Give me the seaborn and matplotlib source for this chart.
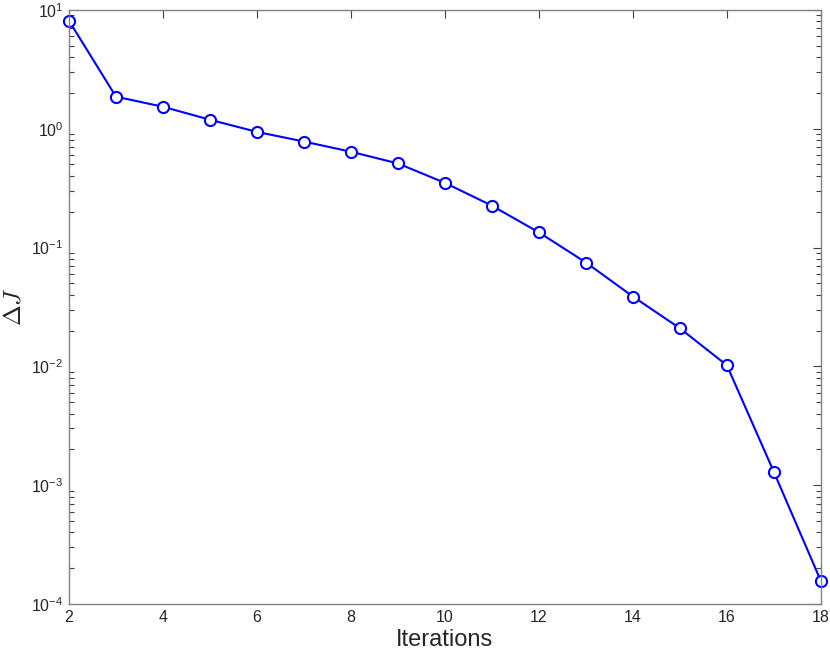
import numpy as np
import pandas as pd
import matplotlib
matplotlib.use("Agg")
import matplotlib.pyplot as plt
import seaborn as sns
from matplotlib.ticker import LogLocator, NullFormatter

iterations = [2, 3, 4, 5, 6, 7, 8, 9, 10, 11, 12, 13, 14, 15, 16, 17, 18]
delta_j = [8.1, 1.86, 1.53, 1.19, 0.94, 0.78, 0.64, 0.51, 0.35, 0.225, 0.134,
           0.0748, 0.0387, 0.0209, 0.0102, 0.00129, 0.000156]
x_ticks = [2, 4, 6, 8, 10, 12, 14, 16, 18]

sns.set_theme(style="white")
plt.rcParams['font.family'] = ['Liberation Sans', 'DejaVu Sans']
plt.rcParams['mathtext.fontset'] = 'cm'

df = pd.DataFrame({"Iterations": iterations, "dJ": delta_j})

fig = plt.figure(figsize=(8.3, 6.55), dpi=100)
ax = fig.add_axes([0.0831, 0.0779, 0.9059, 0.907])
sns.lineplot(data=df, x="Iterations", y="dJ", ax=ax, color="#0000ff",
             linewidth=1.5, marker="o", markersize=8, markerfacecolor="white",
             markeredgecolor="#0000ff", markeredgewidth=1.5)
for ln in ax.lines:
    ln.set_clip_on(False)
ax.set_yscale("log")
ax.set_xlim(2, 18)
ax.set_ylim(1e-4, 1e1)
ax.set_xticks(x_ticks)
ax.set_xticklabels([str(t) for t in x_ticks])
ax.yaxis.set_major_locator(LogLocator(base=10, numticks=10))
ax.yaxis.set_minor_locator(LogLocator(base=10, subs=np.arange(2, 10), numticks=10))
ax.yaxis.set_minor_formatter(NullFormatter())
for sp in ax.spines.values():
    sp.set_color("#808080")
    sp.set_linewidth(1.0)
    sp.set_visible(True)
ax.tick_params(axis="both", which="major", direction="in", length=6, width=0.8,
               color="#404040", labelsize=11.5, labelcolor="#262626",
               top=True, right=True, pad=4)
ax.tick_params(axis="y", which="minor", direction="in", length=3.5, width=0.8,
               color="#404040", left=True, right=True)
ax.set_xlabel("Iterations", fontsize=17, color="#262626", labelpad=3)
ax.set_ylabel(r"$\Delta J$", fontsize=18, color="#262626", labelpad=4)
ax.grid(False)
fig.savefig("out.png", dpi=100)
